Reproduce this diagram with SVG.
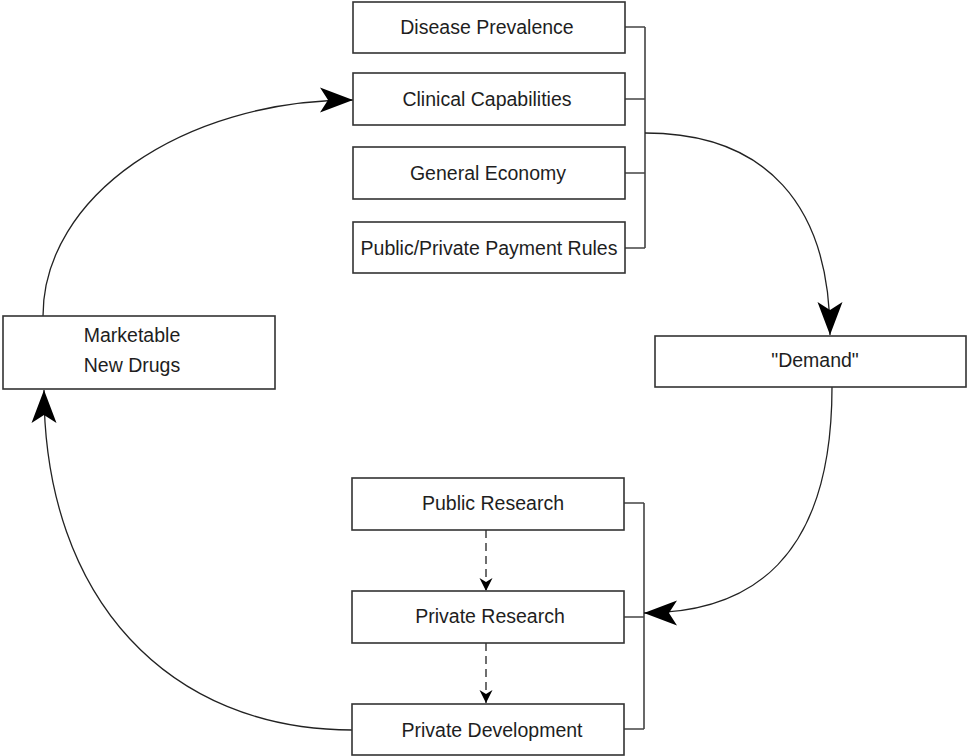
<svg xmlns="http://www.w3.org/2000/svg" width="968" height="756" viewBox="0 0 968 756">
<style>
.box{fill:#fff;stroke:#333;stroke-width:1.6}
.t{font-family:"Liberation Sans",Arial,sans-serif;font-size:19.5px;fill:#1e1e1e;text-anchor:middle}
.br{fill:none;stroke:#444;stroke-width:1.6}
.cv{fill:none;stroke:#222;stroke-width:1.3}
.ds{fill:none;stroke:#222;stroke-width:1.3;stroke-dasharray:8 5}
</style>
<defs>
<marker id="big" markerUnits="userSpaceOnUse" viewBox="-36 -15 38 30" markerWidth="38" markerHeight="30" refX="0" refY="0" orient="auto" overflow="visible">
<path d="M0,0 L-33,-12.5 L-25,0 L-33,12.5 Z" fill="#000"/>
</marker>
<marker id="small" markerUnits="userSpaceOnUse" viewBox="-15 -8 16 16" markerWidth="16" markerHeight="16" refX="0" refY="0" orient="auto" overflow="visible">
<path d="M0,0 L-13,-6.5 L-9,0 L-13,6.5 Z" fill="#000"/>
</marker>
</defs>
<g id="connectors">
<path class="br" d="M625,27 H645 M625,99 H645 M625,173 H645 M625,248 H645 M645,27 V248"/>
<path class="br" d="M624,503 H644 M624,617 H644 M624,729 H644 M644,503 V729"/>
<path class="cv" d="M645,133 C765,133 830,204 830,335" marker-end="url(#big)"/>
<path class="cv" d="M832,387 C832,560 750,613 644,613" marker-end="url(#big)"/>
<path class="cv" d="M352,730 C170,730 44,600 44,390" marker-end="url(#big)"/>
<path class="cv" d="M43,316 C43,197 182,100 353,100" marker-end="url(#big)"/>
<path class="ds" d="M486,530 V591" marker-end="url(#small)"/>
<path class="ds" d="M486,643 V703" marker-end="url(#small)"/>
</g>
<g id="disease"><rect class="box" x="353" y="2" width="272" height="51"/><text class="t" x="487" y="34">Disease Prevalence</text></g>
<g id="clinical"><rect class="box" x="353" y="73" width="272" height="52"/><text class="t" x="487" y="106">Clinical Capabilities</text></g>
<g id="economy"><rect class="box" x="353" y="147" width="272" height="52"/><text class="t" x="488" y="180">General Economy</text></g>
<g id="payment"><rect class="box" x="353" y="222" width="272" height="51"/><text class="t" x="489" y="255">Public/Private Payment Rules</text></g>
<g id="marketable"><rect class="box" x="3" y="316" width="272" height="73"/><text class="t" x="132" y="342">Marketable</text><text class="t" x="132" y="372">New Drugs</text></g>
<g id="demand"><rect class="box" x="655" y="336" width="311" height="51"/><text class="t" x="815" y="367">"Demand"</text></g>
<g id="public-research"><rect class="box" x="352" y="478" width="272" height="52"/><text class="t" x="493" y="510">Public Research</text></g>
<g id="private-research"><rect class="box" x="352" y="591" width="272" height="52"/><text class="t" x="490" y="623">Private Research</text></g>
<g id="private-development"><rect class="box" x="352" y="704" width="272" height="51"/><text class="t" x="492" y="737">Private Development</text></g>
</svg>
